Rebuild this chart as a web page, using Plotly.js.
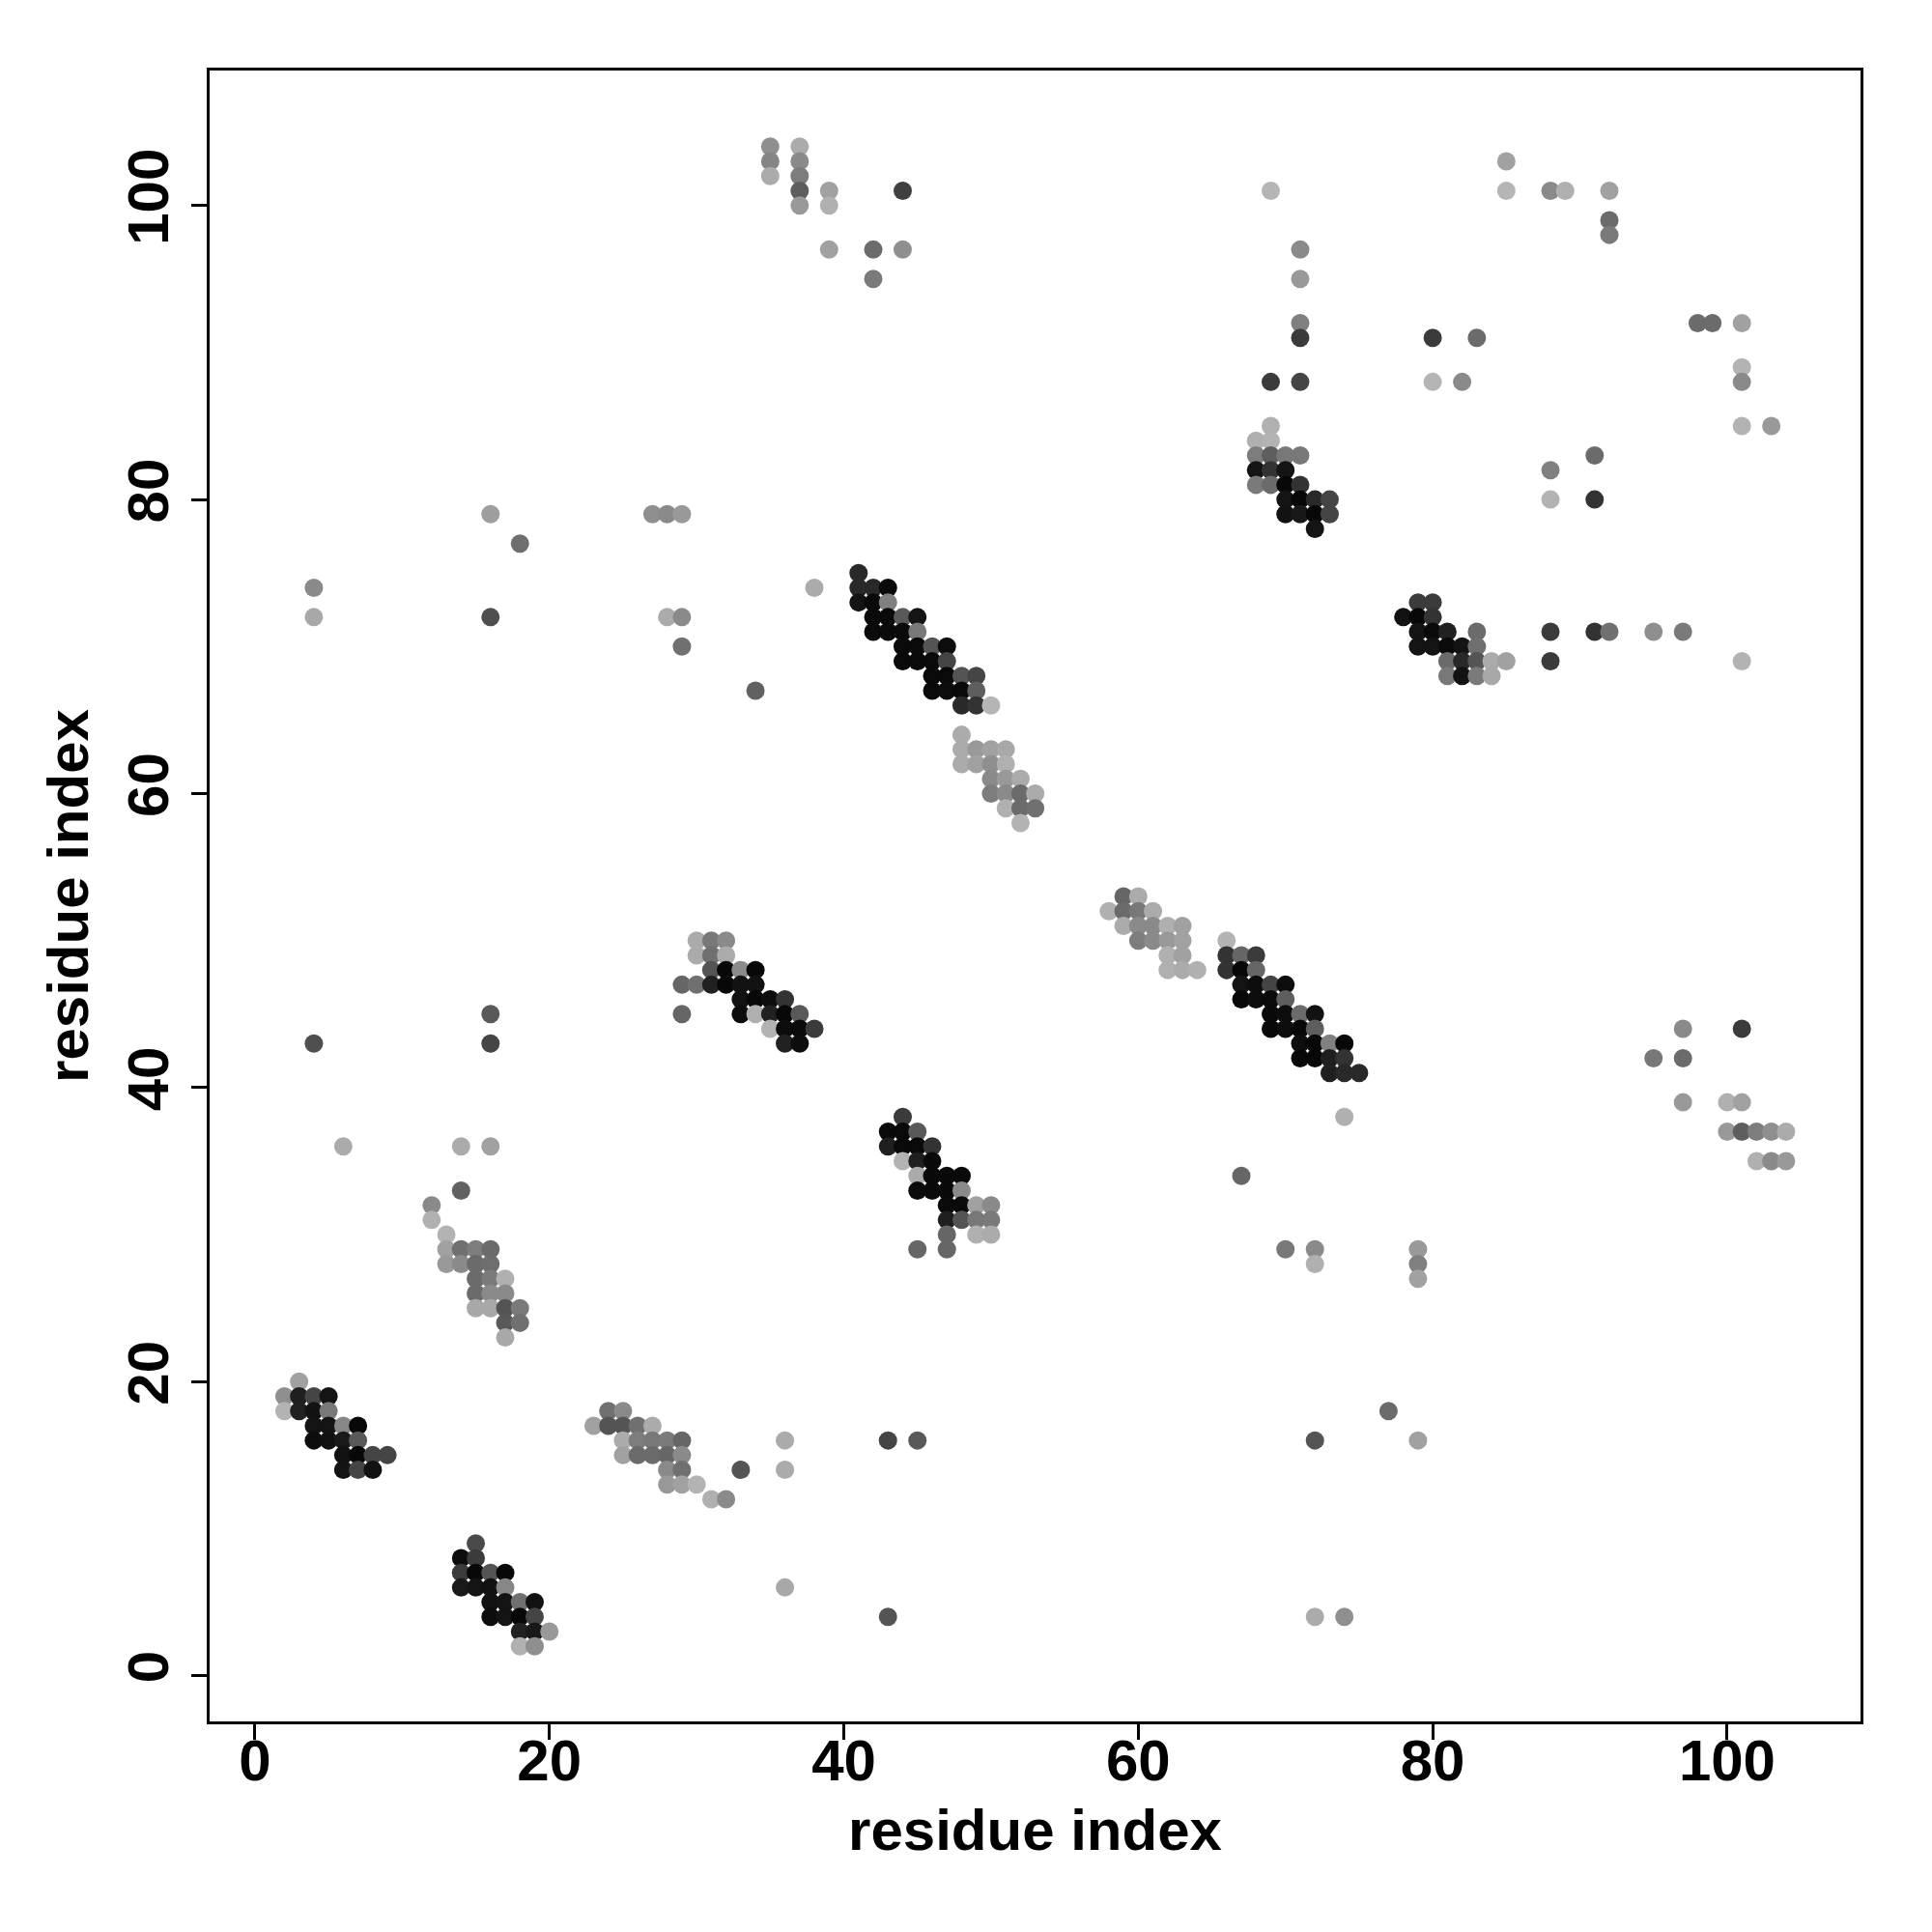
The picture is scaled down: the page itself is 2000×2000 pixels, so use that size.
<!DOCTYPE html>
<html>
<head>
<meta charset="utf-8">
<script src="https://cdn.plot.ly/plotly-3.0.1.min.js"></script>
<style>html,body{margin:0;padding:0;background:#fff;}#chart{width:2000px;height:2000px;}</style>
</head>
<body>
<div id="chart"></div>
<script>
// Contacts: [residue i, residue j, contact score (0..1, darker = higher)]
const contactsTop = [
  [16,79,.38],[18,77,.57],[4,74,.46],[4,72,.34],[16,72,.69],
  [35,104,.44],[35,103,.48],[35,102,.33],[37,104,.33],[37,103,.46],[37,102,.51],[37,101,.63],[37,100,.40],
  [39,101,.37],[39,100,.31],[44,101,.75],[39,97,.37],[42,97,.58],[44,97,.44],[42,95,.52],
  [27,79,.44],[28,79,.46],[29,79,.40],[38,74,.33],[28,72,.33],[29,72,.46],[29,70,.56],[34,67,.62]
];
const contactsDiagUpper = [
  [41,75,.84],[41,74,.84],[42,74,.84],[43,74,.96],[41,73,.92],[42,73,.96],[43,73,.50],
  [42,72,.96],[43,72,.96],[44,72,.65],[45,72,.92],[42,71,.96],[43,71,.96],[44,71,.96],[45,71,.53],
  [44,70,.96],[45,70,.96],[46,70,.67],[47,70,.95],[44,69,.96],[45,69,.96],[46,69,.96],[47,69,.73],
  [46,68,.96],[47,68,.96],[48,68,.67],[49,68,.73],[46,67,.96],[47,67,.95],[48,67,.96],[49,67,.63],
  [48,66,.84],[49,66,.80],[50,66,.29],
  [48,64,.33],[48,63,.33],[49,63,.40],[50,63,.37],[51,63,.34],[48,62,.33],[49,62,.37],[50,62,.44],[51,62,.31],
  [50,61,.46],[51,61,.40],[52,61,.33],[50,60,.51],[51,60,.46],[52,60,.58],[53,60,.33],
  [51,59,.31],[52,59,.58],[53,59,.56],[52,58,.30]
];
const contactsMid = [
  [30,50,.33],[31,50,.53],[32,50,.46],[30,49,.33],[31,49,.56],[32,49,.33],
  [31,48,.67],[32,48,.97],[33,48,.46],[34,48,.97],
  [29,47,.60],[30,47,.56],[31,47,.87],[32,47,.97],[33,47,.93],[34,47,.93],
  [33,46,.93],[34,46,.97],[35,46,.95],[36,46,.80],
  [29,45,.60],[33,45,.95],[34,45,.31],[35,45,.87],[36,45,.97],[37,45,.65],
  [35,44,.30],[36,44,.95],[37,44,.96],[38,44,.77],[36,43,.87],[37,43,.95],
  [44,38,.77],[43,37,.96],[44,37,.96],[45,37,.65],[43,36,.88],[44,36,.96],[45,36,.96],[46,36,.80],
  [44,35,.30],[45,35,.88],[46,35,.96],[45,34,.33],[46,34,.96],[47,34,.96],[48,34,.96],
  [45,33,.96],[46,33,.96],[47,33,.96],[48,33,.46],[47,32,.96],[48,32,.96],[49,32,.37],[50,32,.46],
  [47,31,.88],[48,31,.67],[49,31,.53],[50,31,.52],[47,30,.60],[49,30,.31],[50,30,.33],
  [45,29,.60],[47,29,.60],
  [16,45,.65],[4,43,.69],[16,43,.73],[6,36,.33],[14,36,.33],[16,36,.37]
];
const contactsLowLeft = [
  [14,33,.62],[12,32,.46],[12,31,.31],[13,30,.30],[13,29,.37],[14,29,.56],[15,29,.51],[16,29,.58],
  [13,28,.40],[14,28,.46],[15,28,.58],[16,28,.57],[15,27,.58],[16,27,.52],[17,27,.31],
  [15,26,.58],[16,26,.46],[17,26,.46],[15,25,.34],[16,25,.34],[17,25,.67],[18,25,.52],
  [17,24,.65],[18,24,.56],[17,23,.34],
  [3,20,.37],[2,19,.44],[3,19,.88],[4,19,.73],[5,19,.92],[2,18,.30],[3,18,.87],[4,18,.93],[5,18,.53],
  [4,17,.92],[5,17,.92],[6,17,.47],[7,17,.97],[4,16,.95],[5,16,.93],[6,16,.90],[7,16,.65],
  [6,15,.93],[7,15,.97],[8,15,.73],[9,15,.73],[6,14,.92],[7,14,.73],[8,14,.93],
  [15,9,.71],[14,8,.95],[15,8,.77],[14,7,.77],[15,7,.97],[16,7,.67],[17,7,.97],
  [14,6,.90],[15,6,.92],[16,6,.93],[17,6,.47],[16,5,.93],[17,5,.92],[18,5,.56],[19,5,.93],
  [16,4,.95],[17,4,.92],[18,4,.97],[19,4,.73],[18,3,.87],[19,3,.90],[20,3,.40],[18,2,.31],[19,2,.44],
  [24,18,.56],[25,18,.46],[23,17,.37],[24,17,.67],[25,17,.67],[26,17,.56],[27,17,.33],
  [25,16,.33],[26,16,.51],[27,16,.53],[28,16,.52],[29,16,.60],
  [25,15,.37],[26,15,.58],[27,15,.58],[28,15,.60],[29,15,.46],
  [28,14,.46],[29,14,.56],[28,13,.40],[29,13,.37],[30,13,.30],[31,12,.31],[32,12,.46],[33,14,.67],
  [36,16,.33],[36,14,.33],[43,16,.73],[45,16,.65],[36,6,.34],[43,4,.67]
];
const contactsUpperRight = [
  [69,101,.29],[71,97,.46],[71,95,.40],[71,92,.50],[71,91,.77],[80,91,.77],[69,88,.77],[71,88,.73],[80,88,.29],
  [69,85,.31],[68,84,.31],[69,84,.30],[68,83,.51],[69,83,.63],[70,83,.53],[71,83,.53],
  [68,82,.92],[69,82,.80],[70,82,.92],[68,81,.52],[69,81,.58],[70,81,.97],[71,81,.80],
  [70,80,.92],[71,80,.97],[72,80,.84],[73,80,.73],[70,79,.93],[71,79,.90],[72,79,.97],[73,79,.73],[72,78,.92],
  [79,73,.77],[80,73,.77],[78,72,.93],[79,72,.97],[80,72,.80],
  [79,71,.92],[80,71,.96],[81,71,.87],[83,71,.58],[79,70,.92],[80,70,.92],[81,70,.96],[82,70,.92],[83,70,.56],
  [81,69,.58],[82,69,.84],[83,69,.67],[84,69,.33],[85,69,.37],[81,68,.53],[82,68,.93],[83,68,.52],[84,68,.34],
  [88,71,.77],[91,71,.80],[92,71,.56],[95,71,.44],[97,71,.52],[88,69,.77],[101,69,.30],
  [85,103,.37],[85,101,.29],[88,101,.46],[89,101,.31],[92,101,.37],[92,99,.58],[92,98,.52],
  [83,91,.58],[82,88,.46],[98,92,.58],[99,92,.58],[101,92,.37],[101,89,.30],[101,88,.46],
  [101,85,.30],[103,85,.40],[88,82,.50],[91,83,.58],[88,80,.30],[91,80,.80]
];
const contactsLowRight = [
  [59,53,.60],[60,53,.33],[58,52,.31],[59,52,.58],[60,52,.53],[61,52,.33],
  [59,51,.33],[60,51,.46],[61,51,.46],[62,51,.31],[63,51,.37],
  [60,50,.51],[61,50,.46],[62,50,.40],[63,50,.37],[62,49,.31],[63,49,.37],[62,48,.31],[63,48,.33],[64,48,.31],
  [66,50,.30],[66,49,.80],[67,49,.60],[68,49,.77],[66,48,.80],[67,48,.97],[68,48,.60],
  [67,47,.92],[68,47,.95],[69,47,.73],[70,47,.95],[67,46,.97],[68,46,.95],[69,46,.96],[70,46,.63],
  [69,45,.96],[70,45,.95],[71,45,.58],[72,45,.93],[69,44,.97],[70,44,.95],[71,44,.97],[72,44,.63],
  [71,43,.95],[72,43,.97],[73,43,.50],[74,43,.97],[71,42,.97],[72,42,.97],[73,42,.88],[74,42,.80],
  [73,41,.88],[74,41,.84],[75,41,.84],[74,38,.31],[67,34,.60],
  [70,29,.53],[72,29,.46],[72,28,.31],[79,29,.40],[79,28,.50],[79,27,.37],
  [77,18,.58],[72,16,.67],[79,16,.37],[72,4,.33],[74,4,.44],
  [97,44,.46],[101,44,.77],[95,42,.53],[97,42,.58],[97,39,.40],[100,39,.31],[101,39,.37],
  [100,37,.40],[101,37,.63],[102,37,.51],[103,37,.44],[104,37,.33],[102,35,.31],[103,35,.46],[104,35,.40]
];
const tickValues = [0, 20, 40, 60, 80, 100];
const axisLabel = 'residue index';

const all = [].concat(contactsTop, contactsDiagUpper, contactsMid, contactsLowLeft, contactsUpperRight, contactsLowRight);
const xs = all.map(d => d[0]);
const ys = all.map(d => d[1]);
const sc = all.map(d => d[2]);

const trace = {
  type: 'scatter', mode: 'markers', x: xs, y: ys,
  marker: {
    size: 19, color: sc, cmin: 0, cmax: 1,
    colorscale: [[0, '#ffffff'], [1, '#000000']],
    showscale: false, line: {width: 0}
  },
  hoverinfo: 'x+y'
};

const fontFam = '"Liberation Sans", Arial, Helvetica, sans-serif';
const axisCommon = {
  tickvals: tickValues, ticktext: tickValues.map(String),
  ticks: 'outside', ticklen: 16, tickwidth: 3, tickcolor: '#000',
  showline: true, linewidth: 3, linecolor: '#000', mirror: true,
  showgrid: false, zeroline: false,
  tickfont: {family: fontFam, size: 60, color: '#000', weight: 'bold'}
};

const layout = {
  width: 2000, height: 2000,
  margin: {l: 217, r: 74, t: 73, b: 218},
  paper_bgcolor: '#fff', plot_bgcolor: '#fff',
  showlegend: false,
  xaxis: Object.assign({}, axisCommon, {
    range: [-3.08, 109.06], ticklabelstandoff: -30,
    title: {text: axisLabel, font: {family: fontFam, size: 60, color: '#000', weight: 'bold'}, standoff: 18}
  }),
  yaxis: Object.assign({}, axisCommon, {
    range: [-3.11, 109.18], tickangle: -90,
    title: {text: axisLabel, font: {family: fontFam, size: 60, color: '#000', weight: 'bold'}, standoff: 10}
  })
};

Plotly.newPlot('chart', [trace], layout, {staticPlot: true, displayModeBar: false});
</script>
</body>
</html>
